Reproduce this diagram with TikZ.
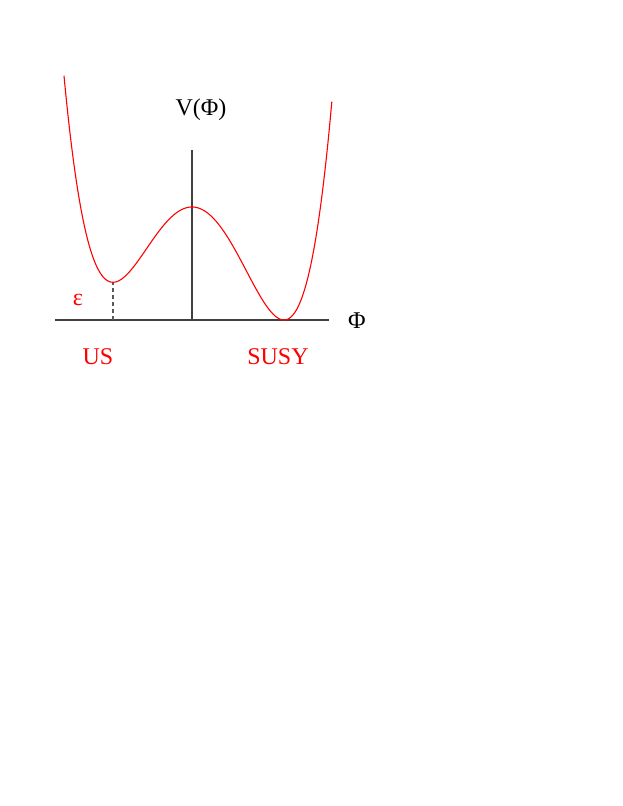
\documentclass[tikz,border=0pt]{standalone}
\usepackage{fontspec}
\setmainfont{Liberation Serif}
\begin{document}
\begin{tikzpicture}[x=1pt,y=1pt,
  axis/.style={draw=black!75, line width=1.1pt},
  pot/.style={draw=red, line width=1.1pt},
  guide/.style={draw=black!65, line width=1.2pt, dash pattern=on 4pt off 3pt},
  lbl/.style={inner sep=0pt, font=\fontsize{24}{28}\selectfont},
  rlbl/.style={lbl, text=red}]
\useasboundingbox (0,0) rectangle (623,806);
\coordinate (xl) at (55,486);
\coordinate (xr) at (329,486);
\coordinate (yb) at (192,486);
\coordinate (yt) at (192,656);
\coordinate (mb) at (113,486);
\coordinate (mt) at (113,524);
\draw[axis] (xl) -- (xr);
\draw[axis] (yb) -- (yt);
\draw[guide] (mb) -- (mt);
\draw[pot] plot[domain=-1.28:1.40, samples=200, smooth]
  ({192+100*\x}, {599 + 696.6*(\x*\x*\x*\x/4 - 0.043333*\x*\x*\x - 0.3634*\x*\x)
   + 8*(\x*(\x+0.79)*(\x-0.92))*(\x*(\x+0.79)*(\x-0.92))});
\node[lbl] (vphi) at (201,696) {V(Φ)};
\node[lbl] (phi) at (357,485) {Φ};
\node[rlbl] (eps) at (78,506) {ε};
\node[rlbl] (us) at (98,449) {US};
\node[rlbl] (susy) at (278,449) {SUSY};
\end{tikzpicture}
\end{document}
